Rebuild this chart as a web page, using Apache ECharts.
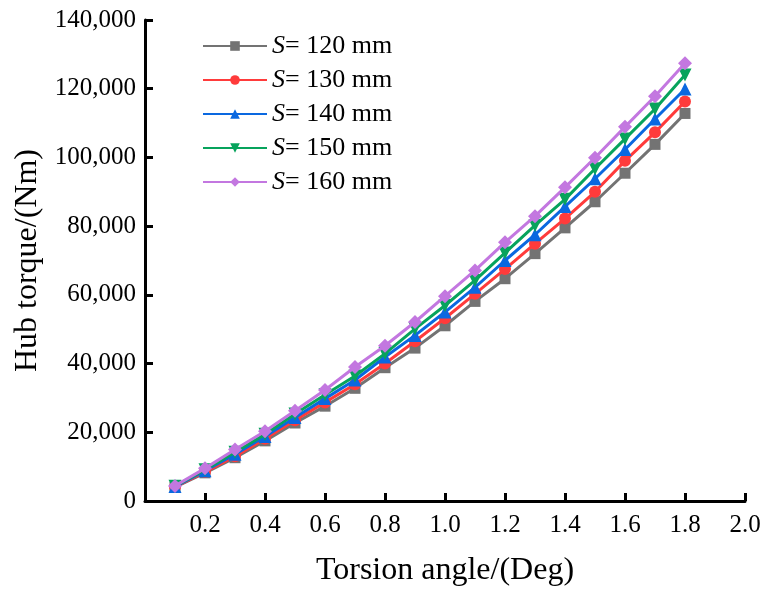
<!DOCTYPE html>
<html><head><meta charset="utf-8">
<script src="https://cdn.jsdelivr.net/npm/echarts@6/dist/echarts.min.js"></script>
<style>html,body{margin:0;padding:0;background:#fff}#c{width:766px;height:592px}</style>
</head><body><div id="c"></div>
<script>
const angles = [0.1,0.2,0.3,0.4,0.5,0.6,0.7,0.8,0.9,1.0,1.1,1.2,1.3,1.4,1.5,1.6,1.7,1.8];
const s120 = [4000,8200,12600,17500,22700,27600,32800,38800,44500,51000,58100,64700,72000,79500,87100,95400,103800,112800];
const s130 = [4100,8500,13000,18100,23500,28700,34000,40000,46500,53200,60300,67500,74900,82200,90000,99000,107300,116300];
const s140 = [4200,8800,13600,18800,24300,29800,35200,41900,48200,55000,62200,70000,77500,85700,93800,102300,111200,119900];
const s150 = [4300,9100,14200,19400,25300,30900,36400,42900,50100,56900,64200,72200,80200,87800,96700,105400,114100,124000];
const s160 = [4400,9500,15000,20300,26300,32300,39000,45200,52100,59600,67100,75300,82900,91300,99900,108900,117800,127400];
const seriesNames = ['120','130','140','150','160'];
const seriesData = [s120,s130,s140,s150,s160];
const colors = ['#737373','#ff3b3b','#0a68e0','#07a35c','#c377e0'];
const symbols = ['rect','circle','triangle','path://M0,0 L10,0 L5,9 Z','diamond'];
const symbolSizes = [11,12,13,13,14];

const font = '"Liberation Serif","Times New Roman",serif';
const chart = echarts.init(document.getElementById('c'));
chart.setOption({
  animation:false,
  backgroundColor:'#fff',
  grid:{left:145,right:21,top:20,bottom:89},
  legend:{
    left:197, top:28, orient:'vertical', itemGap:8, itemWidth:64, itemHeight:12,
    textStyle:{fontFamily:font,fontSize:26,color:'#000',
      rich:{i:{fontFamily:font,fontStyle:'italic',fontSize:26,color:'#000'},n:{fontFamily:font,fontSize:26,color:'#000'}}},
    formatter:function(name){return '{i|S}{n|= '+name+' mm}';},
    data:seriesNames
  },
  xAxis:{
    type:'value',min:0,max:2.0,interval:0.2,
    name:'Torsion angle/(Deg)',nameLocation:'middle',nameGap:54,
    nameTextStyle:{fontFamily:font,fontSize:32,color:'#000'},
    axisLine:{show:true,lineStyle:{color:'#000',width:3}},
    axisTick:{show:true,inside:true,length:8,lineStyle:{color:'#000',width:3}},
    axisLabel:{showMinLabel:false,fontFamily:font,fontSize:25,color:'#000',margin:12,
      formatter:function(v){return v.toFixed(1);}},
    splitLine:{show:false}
  },
  yAxis:{
    type:'value',min:0,max:140000,interval:20000,
    name:'Hub torque/(Nm)',nameLocation:'middle',nameGap:99,
    nameTextStyle:{fontFamily:font,fontSize:32,color:'#000'},
    axisLine:{show:true,lineStyle:{color:'#000',width:3}},
    axisTick:{show:true,inside:true,length:8,lineStyle:{color:'#000',width:3}},
    axisLabel:{fontFamily:font,fontSize:25,color:'#000',margin:9,
      formatter:function(v){return v.toLocaleString('en-US');}},
    splitLine:{show:false}
  },
  series: seriesNames.map(function(n,i){
    return {
      name:n,type:'line',
      data:angles.map(function(a,j){return [a,seriesData[i][j]];}),
      symbol:symbols[i],symbolSize:symbolSizes[i],
      lineStyle:{color:colors[i],width:3},
      itemStyle:{color:colors[i]},
      z:2+i
    };
  })
});
</script></body></html>
